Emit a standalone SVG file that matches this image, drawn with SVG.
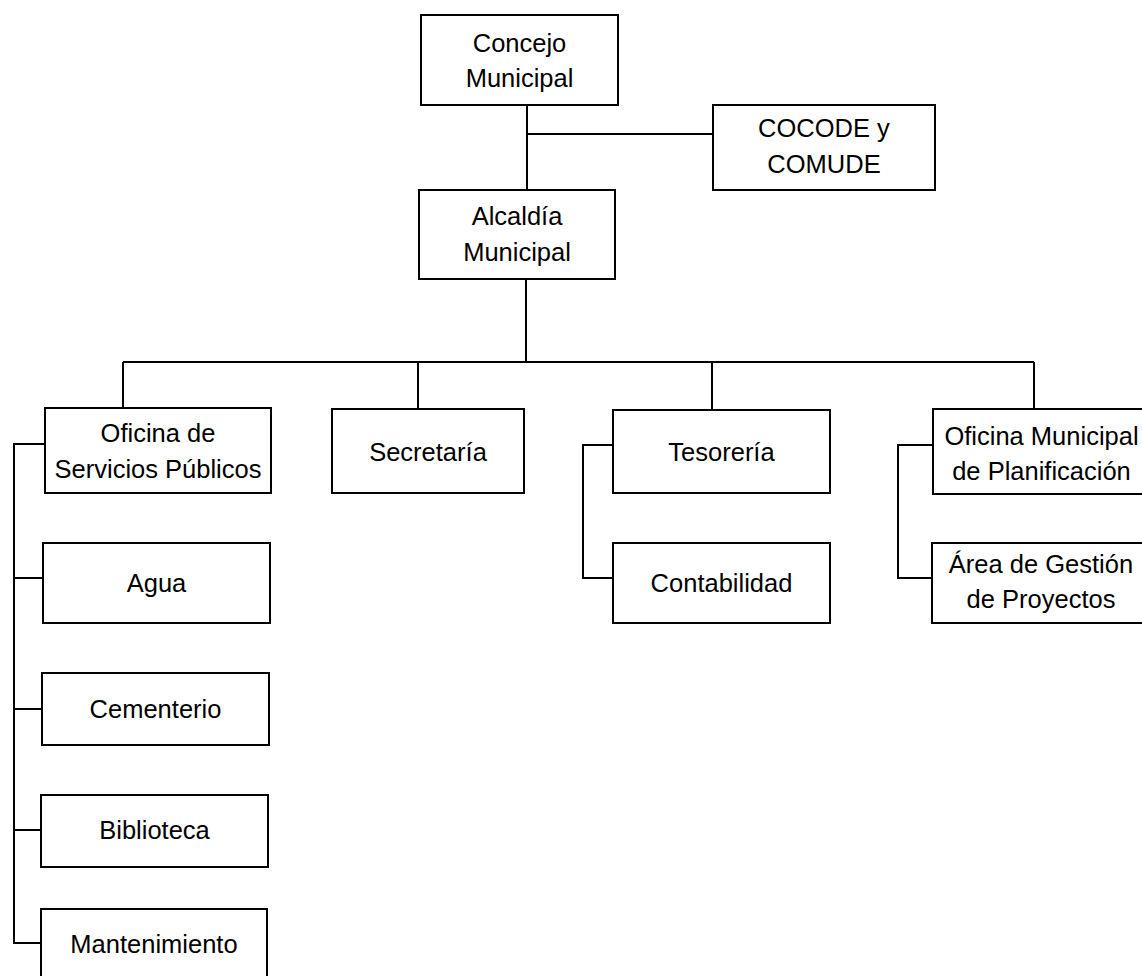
<svg xmlns="http://www.w3.org/2000/svg" width="1142" height="976" viewBox="0 0 1142 976">
<style>
.box{fill:#fff;stroke:#000;stroke-width:2}
.t{font-family:"Liberation Sans",Arial,sans-serif;font-size:25.5px;fill:#000;text-anchor:middle}
.c{fill:none;stroke:#000;stroke-width:2}
</style>
<rect width="1142" height="976" fill="#fff"/>
<g id="connectors">
<path class="c" d="M527 105V190M527 134H713"/>
<path class="c" d="M526 279V362M123 362H1034M123 362V408M418 362V409M712 362V410M1034 362V409"/>
<path class="c" d="M45 444H14V943H41M14 578H43M14 709H42M14 830H41"/>
<path class="c" d="M613 445H583V578H613"/>
<path class="c" d="M933 445H898V578H932"/>
</g>
<g id="concejo"><rect class="box" x="421" y="15" width="197" height="90"/><text class="t" x="519.5" y="52">Concejo</text><text class="t" x="519.5" y="87">Municipal</text></g>
<g id="cocode"><rect class="box" x="713" y="105" width="222" height="85"/><text class="t" x="824" y="137">COCODE y</text><text class="t" x="824" y="173">COMUDE</text></g>
<g id="alcaldia"><rect class="box" x="419" y="190" width="196" height="89"/><text class="t" x="517" y="225">Alcaldía</text><text class="t" x="517" y="261">Municipal</text></g>
<g id="servicios"><rect class="box" x="45" y="408" width="226" height="85"/><text class="t" x="158" y="442">Oficina de</text><text class="t" x="158" y="478">Servicios Públicos</text></g>
<g id="secretaria"><rect class="box" x="332" y="409" width="192" height="84"/><text class="t" x="428" y="461">Secretaría</text></g>
<g id="tesoreria"><rect class="box" x="613" y="410" width="217" height="83"/><text class="t" x="721.5" y="461">Tesorería</text></g>
<g id="contabilidad"><rect class="box" x="613" y="543" width="217" height="80"/><text class="t" x="721.5" y="592">Contabilidad</text></g>
<g id="omp"><rect class="box" x="933" y="409" width="217" height="85"/><text class="t" x="1041.5" y="445">Oficina Municipal</text><text class="t" x="1041.5" y="480">de Planificación</text></g>
<g id="proyectos"><rect class="box" x="932" y="543" width="218" height="80"/><text class="t" x="1041" y="573">Área de Gestión</text><text class="t" x="1041" y="608">de Proyectos</text></g>
<g id="agua"><rect class="box" x="43" y="543" width="227" height="80"/><text class="t" x="156.5" y="592">Agua</text></g>
<g id="cementerio"><rect class="box" x="42" y="673" width="227" height="72"/><text class="t" x="155.5" y="718">Cementerio</text></g>
<g id="biblioteca"><rect class="box" x="41" y="795" width="227" height="72"/><text class="t" x="154.5" y="839">Biblioteca</text></g>
<g id="mantenimiento"><rect class="box" x="41" y="909" width="226" height="80"/><text class="t" x="154" y="953">Mantenimiento</text></g>
</svg>
